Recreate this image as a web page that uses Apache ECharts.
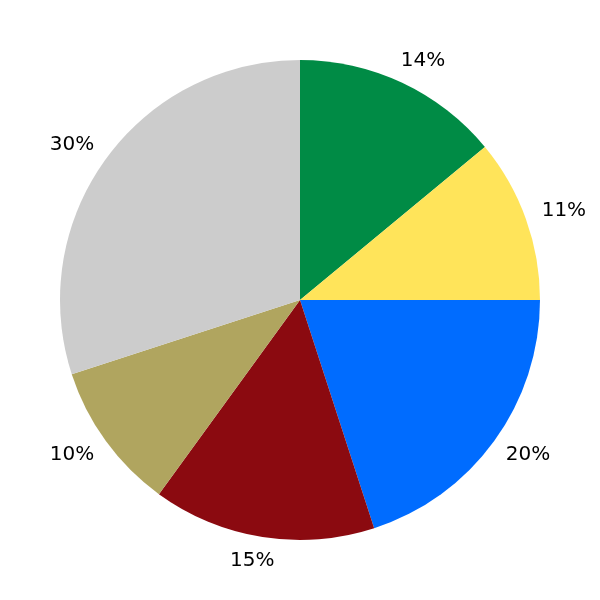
<!DOCTYPE html>
<html><head><meta charset="utf-8">
<script src="https://cdn.jsdelivr.net/npm/echarts@6/dist/echarts.min.js"></script>
<style>html,body{margin:0;padding:0;background:#fff}#c{width:600px;height:600px}</style>
</head><body><div id="c"></div>
<script>
const categories = ['A', 'B', 'C', 'D', 'E', 'F'];
const values = [14, 11, 20, 15, 10, 30];
const colors = ['#008B45', '#FFE45A', '#006CFF', '#8B0A10', '#B0A55F', '#CCCCCC'];

const chart = echarts.init(document.getElementById('c'), null, {renderer: 'canvas'});
const total = values.reduce((a, b) => a + b, 0);
const pieData = categories.map((n, i) => ({name: n, value: values[i], itemStyle: {color: colors[i]}}));
// horizontal nudge of labels (derived from slice mid-angle) to mimic the reference's label placement
let acc = 0;
const labelData = categories.map((n, i) => {
  const mid = (90 - (acc + values[i] / 2) / total * 360) * Math.PI / 180;
  acc += values[i];
  const c = Math.cos(mid);
  const s = Math.round(2 * 16 * Math.sign(c) * Math.sqrt(Math.abs(c)));
  const pad = s >= 0 ? [9, 0, 0, s] : [9, -s, 0, 0];
  return {name: n, value: values[i], label: {padding: pad}};
});
chart.setOption({
  animation: false,
  backgroundColor: '#fff',
  series: [
    {
      type: 'pie', center: [300, 300], radius: [0, 240], startAngle: 90, clockwise: true,
      silent: true, label: {show: false}, labelLine: {show: false},
      itemStyle: {borderWidth: 0}, data: pieData
    },
    {
      type: 'pie', center: [300, 300], radius: [251, 271], startAngle: 90, clockwise: true,
      silent: true, avoidLabelOverlap: false,
      itemStyle: {color: 'rgba(0,0,0,0)', borderWidth: 0},
      label: {show: true, position: 'inside', formatter: '{c}%', color: '#000',
              fontFamily: 'DejaVu Sans', fontSize: 20},
      labelLine: {show: false}, data: labelData
    }
  ]
});
</script></body></html>
